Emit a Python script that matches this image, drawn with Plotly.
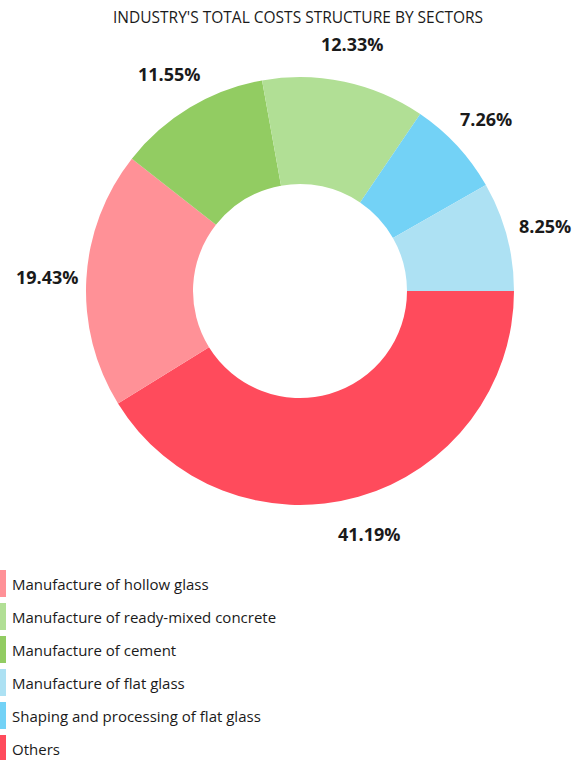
import math
import plotly.graph_objects as go

title = "INDUSTRY'S TOTAL COSTS STRUCTURE BY SECTORS"

# slice order (clockwise from 3 o'clock)
slice_labels = ["Others", "Manufacture of hollow glass", "Manufacture of cement",
                "Manufacture of ready-mixed concrete", "Shaping and processing of flat glass",
                "Manufacture of flat glass"]
slice_values = [41.19, 19.43, 11.55, 12.33, 7.26, 8.25]

# legend order
legend_labels = ["Manufacture of hollow glass", "Manufacture of ready-mixed concrete",
                 "Manufacture of cement", "Manufacture of flat glass",
                 "Shaping and processing of flat glass", "Others"]

colors = {
    "Manufacture of hollow glass": "#FF9197",
    "Manufacture of ready-mixed concrete": "#B1DF95",
    "Manufacture of cement": "#92CC62",
    "Manufacture of flat glass": "#ADE1F3",
    "Shaping and processing of flat glass": "#73D2F6",
    "Others": "#FF4B5C",
}

W, H = 578, 760
cx, cy, R = 300, 291, 214
label_r = 253

fig = go.Figure()
fig.add_trace(go.Pie(
    labels=slice_labels, values=slice_values, sort=False, direction="clockwise",
    rotation=90, hole=0.5, textinfo="none", showlegend=False,
    marker=dict(colors=[colors[l] for l in slice_labels], line=dict(width=0)),
    domain=dict(x=[(cx - R) / W, (cx + R) / W], y=[(H - cy - R) / H, (H - cy + R) / H]),
))

annotations = [dict(text=title, x=298 / W, y=1 - 17 / H, xref="paper", yref="paper",
                    showarrow=False, xanchor="center", yanchor="middle",
                    font=dict(size=15.5, color="#1a1a1a"))]

total = sum(slice_values)
cum = 0.0
for lab, v in zip(slice_labels, slice_values):
    mid = (cum + v / 2) / total * 2 * math.pi
    cum += v
    px = cx + label_r * math.cos(mid)
    py = cy + label_r * math.sin(mid)
    annotations.append(dict(text=f"<b>{v:.2f}%</b>", x=px / W, y=1 - py / H,
                            xref="paper", yref="paper", showarrow=False,
                            xanchor="center", yanchor="middle",
                            font=dict(size=18, color="#1a1a1a")))

shapes = []
top0, pitch, bh = 570, 33, 27
for i, lab in enumerate(legend_labels):
    t = top0 + i * pitch
    shapes.append(dict(type="rect", xref="paper", yref="paper",
                       x0=0, x1=6 / W, y0=1 - (t + bh) / H, y1=1 - t / H,
                       fillcolor=colors[lab], line=dict(width=0)))
    annotations.append(dict(text=lab, x=10 / W, y=1 - (t + bh / 2) / H,
                            xref="paper", yref="paper", showarrow=False,
                            xanchor="left", yanchor="middle",
                            font=dict(size=15, color="#1a1a1a")))

fig.update_layout(
    width=W, height=H, margin=dict(l=0, r=0, t=0, b=0),
    paper_bgcolor="white", plot_bgcolor="white",
    font=dict(family="Open Sans, sans-serif"),
    annotations=annotations, shapes=shapes, showlegend=False,
)

fig.write_html("out.html", config={"displayModeBar": False},
               post_script="document.body.style.margin='0';")
